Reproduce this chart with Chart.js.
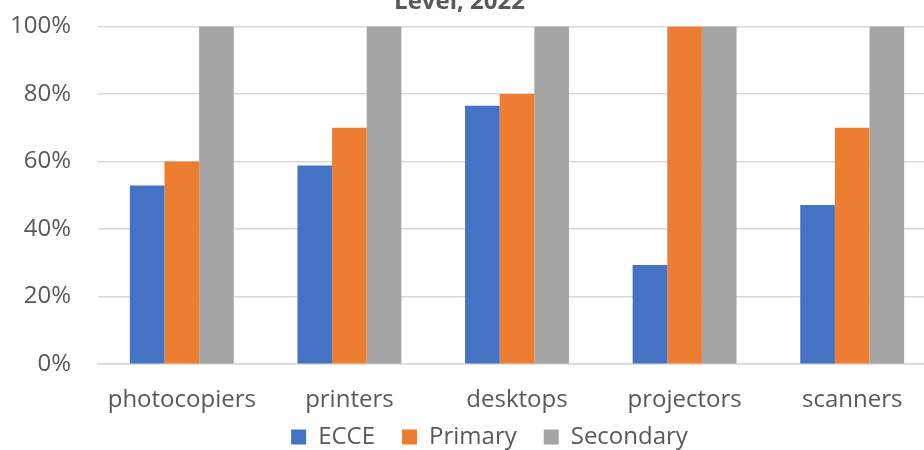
<!DOCTYPE html>
<html>
<head>
<meta charset="utf-8">
<script src="https://cdn.jsdelivr.net/npm/chart.js@4"></script>
<style>
  html, body { margin: 0; padding: 0; background: #fff; overflow: hidden; }
  #wrap { position: absolute; left: -27px; top: -15px; width: 971px; height: 507px; }
</style>
</head>
<body>
<div id="wrap"><canvas id="bar-chart"></canvas></div>
<script>
document.addEventListener("DOMContentLoaded", function() {
    // Data for each level
    const equipment = ["photocopiers", "printers", "desktops", "projectors", "scanners"];
    const ecceData = [52.9, 58.8, 76.5, 29.4, 47.1];
    const primaryData = [60, 70, 80, 100, 70];
    const secondaryData = [100, 100, 100, 100, 100];
    const yTicks = [0, 20, 40, 60, 80, 100];

    const textColor = "#595959";
    const fontFamily = "'Open Sans', sans-serif";

    // legend padding also sets the gap between items, so move it afterwards
    const legendNudge = {
      id: "legendNudge",
      afterLayout: function(chart) {
        const lg = chart.legend;
        lg.top -= 31;
        lg.bottom -= 31;
        lg.left += 30;
        lg.right += 30;
      }
    };

    const canvas = document.getElementById("bar-chart");

    const chart = new Chart(canvas, {
      type: "bar",
      data: {
        labels: equipment,
        datasets: [
          { label: "ECCE", data: ecceData, backgroundColor: "#4472C4" },
          { label: "Primary", data: primaryData, backgroundColor: "#ED7D31" },
          { label: "Secondary", data: secondaryData, backgroundColor: "#A5A5A5" }
        ]
      },
      plugins: [legendNudge],
      options: {
        responsive: true,
        maintainAspectRatio: false,
        animation: false,
        layout: { padding: { left: 10, right: 8, top: 0, bottom: 2 } },
        datasets: {
          bar: { categoryPercentage: 0.62, barPercentage: 1.0 }
        },
        plugins: {
          title: {
            display: true,
            text: "Level, 2022",
            color: textColor,
            font: { family: fontFamily, size: 24, weight: "bold" },
            padding: { top: 0, bottom: 10 }
          },
          legend: {
            position: "bottom",
            labels: {
              color: textColor,
              font: { family: fontFamily, size: 24 },
              boxWidth: 15,
              boxHeight: 15,
              padding: 27
            }
          },
          tooltip: { enabled: false }
        },
        scales: {
          x: {
            grid: { display: false },
            border: { color: "#D9D9D9", width: 1.5 },
            ticks: {
              color: textColor,
              font: { family: fontFamily, size: 24 },
              padding: 14,
              maxRotation: 0
            }
          },
          y: {
            min: 0,
            max: 100,
            afterBuildTicks: function(axis) {
              axis.ticks = yTicks.map(v => ({ value: v }));
            },
            grid: { color: "#D9D9D9", lineWidth: 1.5, drawTicks: false },
            border: { display: false },
            ticks: {
              color: textColor,
              font: { family: fontFamily, size: 24 },
              padding: 27,
              callback: v => v + "%"
            }
          }
        }
      }
    });
  });
</script>
</body>
</html>
